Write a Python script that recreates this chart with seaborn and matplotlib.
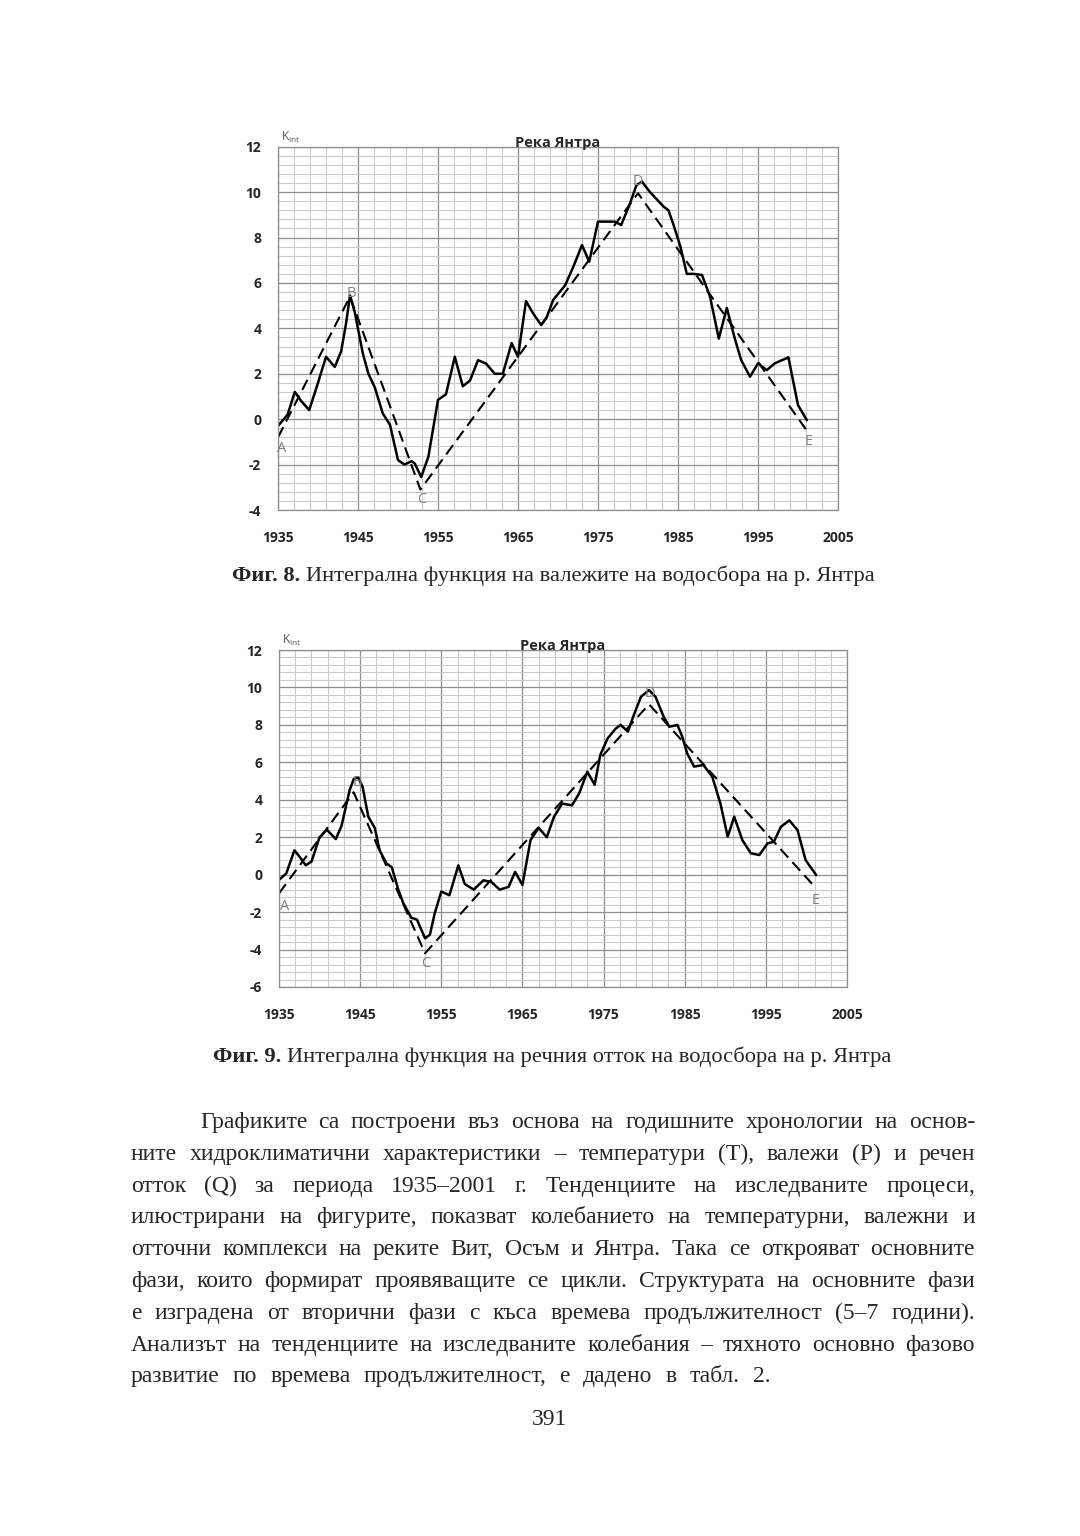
import numpy as np
import matplotlib
matplotlib.use("Agg")
import matplotlib.pyplot as plt
import seaborn as sns

# --- data ---
precip_years = [1935.0, 1936.2, 1937.1, 1937.9, 1938.9, 1940.0, 1941.0, 1942.1, 1942.9, 1943.5,
                1944.0, 1944.6, 1945.6, 1946.3, 1947.1, 1948.1, 1949.0, 1950.0, 1950.8, 1951.7,
                1952.1, 1952.9, 1953.8, 1955.0, 1956.0, 1957.1, 1958.1, 1959.0, 1960.0, 1961.0,
                1962.1, 1963.1, 1964.2, 1965.0, 1966.0, 1966.9, 1967.9, 1968.6, 1969.4, 1970.9,
                1971.9, 1973.0, 1973.9, 1975.0, 1976.1, 1977.1, 1977.9, 1979.0, 1979.8, 1980.5,
                1981.5, 1983.2, 1983.8, 1984.4, 1985.3, 1986.1, 1986.9, 1988.0, 1989.0, 1990.1,
                1991.1, 1992.1, 1992.9, 1994.0, 1995.0, 1996.1, 1997.1, 1998.8, 2000.0, 2001.1]
precip_kint = [-0.3, 0.2, 1.2, 0.8, 0.4, 1.6, 2.75, 2.3, 3.0, 4.2,
               5.45, 4.7, 2.9, 2.0, 1.4, 0.25, -0.25, -1.8, -2.0, -1.85,
               -1.95, -2.55, -1.65, 0.85, 1.1, 2.75, 1.45, 1.7, 2.6, 2.45,
               2.0, 2.0, 3.35, 2.75, 5.2, 4.65, 4.15, 4.5, 5.25, 5.9,
               6.7, 7.67, 6.93, 8.7, 8.7, 8.7, 8.55, 9.5, 10.3, 10.46,
               10.0, 9.36, 9.2, 8.6, 7.6, 6.4, 6.4, 6.35, 5.4, 3.55,
               4.9, 3.55, 2.6, 1.87, 2.46, 2.16, 2.46, 2.72, 0.62, -0.04]
precip_trend_years = [1935.0, 1944.0, 1952.8, 1980.0, 2001.1]
precip_trend_kint = [-0.8, 5.4, -3.1, 9.95, -0.5]

runoff_years = [1935.0, 1935.9, 1936.9, 1937.55, 1938.3, 1939.0, 1940.0, 1940.9, 1942.0, 1942.7,
                1943.7, 1944.2, 1944.75, 1945.3, 1946.0, 1946.8, 1947.4, 1948.25, 1948.9, 1949.7,
                1950.3, 1951.3, 1952.0, 1953.0, 1953.6, 1954.2, 1955.0, 1956.0, 1957.1, 1957.9,
                1959.0, 1960.2, 1961.2, 1962.2, 1963.3, 1964.1, 1965.0, 1966.0, 1967.0, 1968.0,
                1968.9, 1969.9, 1971.1, 1972.0, 1973.0, 1973.9, 1974.6, 1975.5, 1976.5, 1977.1,
                1978.0, 1978.7, 1979.6, 1980.6, 1981.4, 1982.4, 1983.1, 1984.1, 1984.7, 1985.3,
                1986.15, 1987.3, 1988.4, 1989.4, 1990.3, 1991.1, 1992.1, 1993.15, 1994.2, 1995.2,
                1996.0, 1996.85, 1997.9, 1998.9, 1999.9, 2001.2]
runoff_kint = [-0.28, 0.07, 1.3, 0.95, 0.5, 0.7, 2.0, 2.4, 1.9, 2.6,
               4.5, 5.1, 5.2, 4.7, 3.1, 2.5, 1.3, 0.6, 0.4, -0.8,
               -1.5, -2.3, -2.4, -3.4, -3.2, -2.05, -0.9, -1.1, 0.5, -0.5,
               -0.8, -0.3, -0.4, -0.8, -0.65, 0.15, -0.55, 1.85, 2.5, 2.0,
               3.1, 3.8, 3.7, 4.35, 5.5, 4.8, 6.4, 7.28, 7.8, 8.0,
               7.64, 8.5, 9.5, 9.86, 9.5, 8.44, 7.9, 8.0, 7.37, 6.48,
               5.77, 5.86, 5.23, 3.8, 2.03, 3.1, 1.85, 1.14, 1.05, 1.67,
               1.76, 2.56, 2.9, 2.38, 0.78, -0.02]
runoff_trend_years = [1935.0, 1944.2, 1953.0, 1980.6, 2001.2]
runoff_trend_kint = [-1.0, 4.4, -4.2, 9.1, -0.73]

phase_letters = ["A", "B", "C", "D", "E"]
precip_letter_pos = [(1935.4, -1.3), (1944.2, 5.55), (1953.0, -3.55), (1980.0, 10.45), (2001.3, -1.0)]
runoff_letter_pos = [(1935.7, -1.7), (1944.6, 4.9), (1953.1, -4.75), (1980.7, 9.7), (2001.2, -1.4)]

chart_title = "Река Янтра"
caption_8 = ("Фиг. 8.", "Интегрална функция на валежите на водосбора на р. Янтра")
caption_9 = ("Фиг. 9.", "Интегрална функция на речния отток на водосбора на р. Янтра")
paragraph = [
    "Графиките са построени въз основа на годишните хронологии на основ-",
    "ните хидроклиматични характеристики – температури (Т), валежи (Р) и речен",
    "отток (Q) за периода 1935–2001 г. Тенденциите на изследваните процеси,",
    "илюстрирани на фигурите, показват колебанието на температурни, валежни и",
    "отточни комплекси на реките Вит, Осъм и Янтра. Така се открояват основните",
    "фази, които формират проявяващите се цикли. Структурата на основните фази",
    "е изградена от вторични фази с къса времева продължителност (5–7 години).",
    "Анализът на тенденциите на изследваните колебания – тяхното основно фазово",
    "развитие по времева продължителност, е дадено в табл. 2.",
]
page_number = "391"

sns.set_style("white")
plt.rcParams["font.family"] = ["Open Sans", "DejaVu Sans"]

W, H = 1080, 1536
fig = plt.figure(figsize=(W / 100, H / 100), dpi=100)
fig.patch.set_facecolor("white")


def draw_chart(rect, years, vals, t_years, t_vals, letters_pos, ymin):
    ax = fig.add_axes(rect)
    ax.set_xlim(1935, 2005)
    ax.set_ylim(ymin, 12)
    ax.set_xticks(np.arange(1935, 2006, 10))
    ax.set_xticks(np.arange(1935, 2006, 2), minor=True)
    ax.set_yticks(np.arange(ymin, 12.01, 2))
    ax.set_yticks(np.arange(ymin, 12.01, 0.4), minor=True)
    ax.grid(which="minor", color="#cbcbcb", lw=0.8)
    ax.grid(which="major", color="#8e8e8e", lw=0.9)
    ax.set_axisbelow(True)
    for s in ax.spines.values():
        s.set_color("#8e8e8e")
        s.set_linewidth(0.9)
    ax.tick_params(axis="x", which="both", length=0, pad=15, labelsize=10)
    ax.tick_params(axis="y", which="major", length=5, color="#8e8e8e", width=0.9, pad=7, labelsize=10)
    ax.tick_params(axis="y", which="minor", length=0)
    ax.set_xticklabels([str(v) for v in np.arange(1935, 2006, 10)], fontweight="bold")
    ax.set_yticklabels([f"{v:g}" for v in np.arange(ymin, 12.01, 2)], fontweight="bold")

    sns.lineplot(x=years, y=vals, ax=ax, color="black", lw=1.8, sort=False, estimator=None)
    sns.lineplot(x=t_years, y=t_vals, ax=ax, color="black", lw=1.5, sort=False, estimator=None)
    ax.lines[-1].set_dashes((5.5, 3))
    ax.set_xlabel("")
    ax.set_ylabel("")

    for letter, (lx, ly) in zip(phase_letters, letters_pos):
        ax.text(lx, ly, letter, color="#808080", fontsize=10.5, ha="center", va="center")
    ax.text(0.5, 1.0, chart_title, transform=ax.transAxes, ha="center", va="baseline",
            fontsize=10.5, fontweight="bold")
    ax.text(0.005, 1.006, r"$\mathregular{K_{int}}$", transform=ax.transAxes, ha="left",
            va="bottom", fontsize=8.5, color="#555555")
    return ax


draw_chart([278 / W, 1 - 510 / H, 560 / W, 363.3 / H], precip_years, precip_kint,
           precip_trend_years, precip_trend_kint, precip_letter_pos, -4)
draw_chart([279 / W, 1 - 987 / H, 568 / W, 337 / H], runoff_years, runoff_kint,
           runoff_trend_years, runoff_trend_kint, runoff_letter_pos, -6)

# --- page text ---
serif = ["Liberation Serif", "DejaVu Serif"]
renderer = fig.canvas.get_renderer()


def text_width(s, size, weight="normal"):
    t = fig.text(0, 0, s, fontsize=size, family=serif, fontweight=weight)
    w = t.get_window_extent(renderer).width
    t.remove()
    return w


def caption(parts, xc, ybase, size):
    bold, rest = parts
    wb = text_width(bold + " ", size, "bold")
    wr = text_width(rest, size)
    x0 = xc - (wb + wr) / 2
    fig.text(x0 / W, 1 - ybase / H, bold, fontsize=size, family=serif, fontweight="bold", va="baseline")
    fig.text((x0 + wb) / W, 1 - ybase / H, rest, fontsize=size, family=serif, va="baseline")


caption(caption_8, 553, 581, 16.2)
caption(caption_9, 552, 1062, 16.2)

size = 17
left, right, indent = 131, 975, 200
last_right = 770
for i, line in enumerate(paragraph):
    yb = 1128 + 31.8 * i
    x0 = indent if i == 0 else left
    words = line.split(" ")
    widths = [text_width(w, size) for w in words]
    end = last_right if i == len(paragraph) - 1 else right
    gap = max((end - x0 - sum(widths)) / (len(words) - 1), 2)
    x = x0
    for w, wd in zip(words, widths):
        fig.text(x / W, 1 - yb / H, w, fontsize=size, family=serif, va="baseline")
        x += wd + gap

fig.text(550 / W, 1 - 1425 / H, page_number, fontsize=size, family=serif, ha="center", va="baseline")

fig.savefig("out.png", dpi=100, facecolor="white")
